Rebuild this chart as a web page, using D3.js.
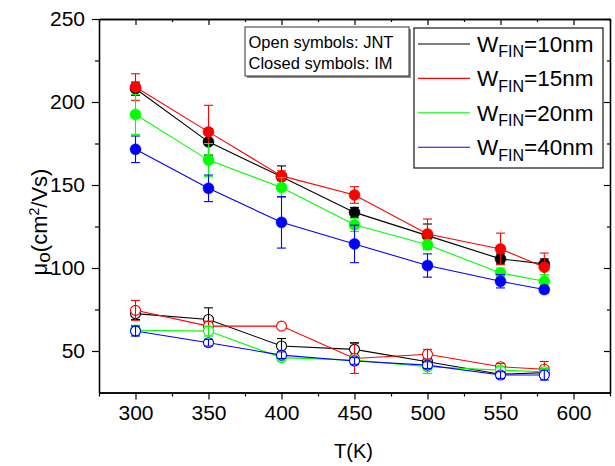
<!DOCTYPE html>
<html>
<head>
<meta charset="utf-8">
<script src="https://cdn.jsdelivr.net/npm/d3@7"></script>
<style>
  html, body { margin: 0; padding: 0; background: #fff; }
  svg { display: block; }
  text { font-family: "Liberation Sans", Arial, sans-serif; fill: #000; }
</style>
</head>
<body>
<svg id="chart" width="615" height="466"></svg>
<script>
// ---------------- DATA ----------------
const temps = [300, 350, 400, 450, 500, 550, 580];
const seriesNames = ["10", "15", "20", "40"];
const seriesColors = ["#000000", "#ff0000", "#00ff00", "#0000ff"];

// Closed symbols: IM
const im10 = [208, 176, 155, 133.5, 119.5, 105.5, 102.5];
const im15 = [209, 182, 155.5, 144, 120.5, 111.5, 100.5];
const im20 = [192.5, 165, 148.5, 126, 114, 97, 92];
const im40 = [171.5, 148, 127.5, 114.5, 101.5, 92, 87];
const im10Err = [4, 8, 6.5, 3, 7, 3, 3];
const im15Err = [8, 16, 3, 5, 9, 9.5, 8.5];
const im20Err = [12, 10, 6, 4, 3, 3, 4];
const im40Err = [8, 8, 15.5, 11.3, 7, 4, 2];

// Open symbols: JNT
const jnt10 = [72.5, 69, 53, 51, 43.5, 36, 37];
const jnt15 = [74.5, 65, 65, 45.5, 48, 40.5, 39];
const jnt20 = [62.5, 62, 46, 44.5, 40.5, 38.5, 37.5];
const jnt40 = [62, 55, 47.5, 44, 41.5, 35.5, 35.5];
const jnt10Err = [3.5, 7, 4.5, 4, 3, 2, 2];
const jnt15Err = [6, 3, 0, 9, 3, 2, 4.7];
const jnt20Err = [3, 3, 2, 2, 4, 2, 2];
const jnt40Err = [3, 2, 2, 2, 2, 2, 3];

const xMajorTicks = [300, 350, 400, 450, 500, 550, 600];
const xMinorTicks = [275, 325, 375, 425, 475, 525, 575, 625];
const yMajorTicks = [50, 100, 150, 200, 250];
const yMinorTicks = [75, 125, 175, 225];

const imSets = [[im10, im10Err], [im15, im15Err], [im20, im20Err], [im40, im40Err]];
const jntSets = [[jnt10, jnt10Err], [jnt15, jnt15Err], [jnt20, jnt20Err], [jnt40, jnt40Err]];

// ---------------- CHART ----------------
const svg = d3.select("#chart");
const L = 99, R = 610, T = 19, B = 392.5;
const x = d3.scaleLinear().domain([275, 625]).range([L, R]);
const y = d3.scaleLinear().domain([25, 250]).range([B, T]);

function styleAxis(g) {
  g.selectAll("path.domain").attr("stroke", "#000").attr("stroke-width", 1.3);
  g.selectAll(".tick line").attr("stroke", "#000").attr("stroke-width", 1.2);
  g.selectAll(".tick text").style("font-size", "21px")
    .style("font-family", '"Liberation Sans", Arial, sans-serif').attr("fill", "#000");
}

// bottom axis
svg.append("g").attr("transform", `translate(0,${B})`)
  .call(d3.axisBottom(x).tickValues(xMajorTicks).tickSize(7).tickPadding(6).tickSizeOuter(0).tickFormat(d3.format("d")))
  .call(styleAxis);
svg.append("g").attr("transform", `translate(0,${B})`)
  .call(d3.axisBottom(x).tickValues(xMinorTicks).tickSize(4).tickSizeOuter(0).tickFormat(""))
  .call(styleAxis);
// top axis (inward ticks)
svg.append("g").attr("transform", `translate(0,${T})`)
  .call(d3.axisBottom(x).tickValues(xMajorTicks).tickSize(6).tickSizeOuter(0).tickFormat(""))
  .call(styleAxis);
svg.append("g").attr("transform", `translate(0,${T})`)
  .call(d3.axisBottom(x).tickValues(xMinorTicks).tickSize(3).tickSizeOuter(0).tickFormat(""))
  .call(styleAxis);
// left axis
svg.append("g").attr("transform", `translate(${L},0)`)
  .call(d3.axisLeft(y).tickValues(yMajorTicks).tickSize(7).tickPadding(7).tickSizeOuter(0).tickFormat(d3.format("d")))
  .call(styleAxis);
svg.append("g").attr("transform", `translate(${L},0)`)
  .call(d3.axisLeft(y).tickValues(yMinorTicks).tickSize(4).tickSizeOuter(0).tickFormat(""))
  .call(styleAxis);
// right axis (inward ticks)
svg.append("g").attr("transform", `translate(${R},0)`)
  .call(d3.axisLeft(y).tickValues(yMajorTicks).tickSize(6).tickSizeOuter(0).tickFormat(""))
  .call(styleAxis);
svg.append("g").attr("transform", `translate(${R},0)`)
  .call(d3.axisLeft(y).tickValues(yMinorTicks).tickSize(3).tickSizeOuter(0).tickFormat(""))
  .call(styleAxis);

// axis titles
svg.append("text").attr("x", (L + R) / 2 - 1).attr("y", 458).attr("text-anchor", "middle")
  .style("font-size", "20px").text("T(K)");
const yt = svg.append("text").attr("transform", "translate(47,222) rotate(-90)")
  .attr("text-anchor", "middle").style("font-size", "22px");
yt.append("tspan").text("μ");
yt.append("tspan").attr("dy", 3).style("font-size", "19px").text("o");
yt.append("tspan").attr("dy", -3).text("(cm");
yt.append("tspan").attr("dy", -8).style("font-size", "14px").text("2");
yt.append("tspan").attr("dy", 8).text("/Vs)");

const plot = svg.append("g");
const line = d3.line().x((d, i) => x(temps[i])).y(d => y(d));
const cap = 4.5;

function drawSeries(vals, errs, color, open) {
  const g = plot.append("g");
  g.append("path").datum(vals).attr("d", line).attr("fill", "none")
    .attr("stroke", color).attr("stroke-width", 1.1);
  const eb = () => {
    const e = g.append("g").attr("stroke", color).attr("stroke-width", 1.1);
    vals.forEach((v, i) => {
      if (!errs[i]) return;
      const xx = x(temps[i]);
      e.append("line").attr("x1", xx).attr("x2", xx).attr("y1", y(v - errs[i])).attr("y2", y(v + errs[i]));
      e.append("line").attr("x1", xx - cap).attr("x2", xx + cap).attr("y1", y(v + errs[i])).attr("y2", y(v + errs[i]));
      e.append("line").attr("x1", xx - cap).attr("x2", xx + cap).attr("y1", y(v - errs[i])).attr("y2", y(v - errs[i]));
    });
  };
  if (!open) eb();
  g.selectAll("circle").data(vals).enter().append("circle")
    .attr("cx", (d, i) => x(temps[i])).attr("cy", d => y(d))
    .attr("r", open ? 5 : 5.5)
    .attr("fill", open ? "#fff" : color)
    .attr("stroke", color).attr("stroke-width", open ? 1.1 : 0.5);
  if (open) eb();
}

jntSets.forEach((s, k) => drawSeries(s[0], s[1], seriesColors[k], true));
imSets.forEach((s, k) => drawSeries(s[0], s[1], seriesColors[k], false));

// info box
svg.append("rect").attr("x", 247).attr("y", 29).attr("width", 164).attr("height", 49).attr("fill", "#8c8c8c");
svg.append("rect").attr("x", 245).attr("y", 27).attr("width", 164).attr("height", 49)
  .attr("fill", "#fff").attr("stroke", "#333").attr("stroke-width", 1);
svg.append("text").attr("x", 248.5).attr("y", 47.5).style("font-size", "16.5px").text("Open symbols: JNT");
svg.append("text").attr("x", 248.5).attr("y", 68.5).style("font-size", "16.5px").text("Closed symbols: IM");

// legend
svg.append("rect").attr("x", 414).attr("y", 28).attr("width", 189).attr("height", 140)
  .attr("fill", "#fff").attr("stroke", "#000").attr("stroke-width", 1.1);
seriesNames.forEach((n, k) => {
  const ly = 44 + k * 34.4;
  svg.append("line").attr("x1", 418).attr("x2", 470).attr("y1", ly).attr("y2", ly)
    .attr("stroke", seriesColors[k]).attr("stroke-width", 1.1);
  const t = svg.append("text").attr("x", 477).attr("y", ly + 7.7).style("font-size", "22.5px");
  t.append("tspan").text("W");
  t.append("tspan").attr("dy", 5.6).style("font-size", "16px").text("FIN");
  t.append("tspan").attr("dy", -5.6).text("=" + n + "nm");
});
</script>
</body>
</html>
